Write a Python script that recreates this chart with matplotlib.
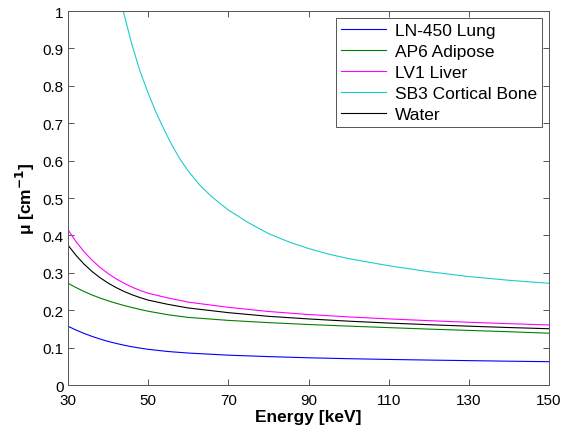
import numpy as np
import matplotlib
matplotlib.use('Agg')
from matplotlib import pyplot as plt

plt.rcParams['font.family'] = ['Liberation Sans', 'DejaVu Sans']

# Attenuation coefficients (cm^-1)
energy = [30, 32, 34, 36, 38, 40, 42, 44, 46, 48, 50, 55, 60, 70, 80, 90,
          100, 110, 120, 130, 140, 150]
lung = [0.157, 0.147, 0.138, 0.130, 0.1229, 0.1166, 0.1112, 0.1064, 0.1022,
        0.0986, 0.0955, 0.0895, 0.0855, 0.0798, 0.0760, 0.0728, 0.0704, 0.0684,
        0.0667, 0.0652, 0.0637, 0.0624]
adipose = [0.272, 0.2605, 0.250, 0.2407, 0.2325, 0.2252, 0.2186, 0.2126, 0.2071,
           0.202, 0.1973, 0.1878, 0.1808, 0.1728, 0.1668, 0.1618, 0.1575, 0.1535,
           0.1495, 0.146, 0.1425, 0.1385]
liver = [0.415, 0.3833, 0.3564, 0.3337, 0.3144, 0.298, 0.284, 0.272, 0.2617,
         0.2529, 0.2453, 0.2327, 0.2216, 0.2078, 0.1966, 0.1885, 0.1821, 0.1768,
         0.1721, 0.1678, 0.164, 0.1606]
water = [0.374, 0.3465, 0.3232, 0.3035, 0.2868, 0.2726, 0.2605, 0.2501, 0.2412,
         0.2336, 0.227, 0.2155, 0.206, 0.1935, 0.1837, 0.1767, 0.1707, 0.1657,
         0.1613, 0.1573, 0.1537, 0.1505]

energy_bone = [40, 42, 44, 46, 48, 50, 52, 54, 56, 58, 60, 63, 66, 70, 75, 80,
               85, 90, 95, 100, 110, 120, 130, 140, 150]
bone = [1.21, 1.09, 0.99, 0.908, 0.838, 0.780, 0.728, 0.682, 0.640, 0.603, 0.572,
        0.533, 0.502, 0.468, 0.434, 0.405, 0.383, 0.365, 0.350, 0.338, 0.319,
        0.303, 0.290, 0.280, 0.272]

xticks = [30, 50, 70, 90, 110, 130, 150]
yticks = np.round(np.arange(0, 1.01, 0.1), 1)
ytick_labels = ['0', '0.1', '0.2', '0.3', '0.4', '0.5', '0.6', '0.7', '0.8', '0.9', '1']

fig = plt.figure(figsize=(5.65, 4.35), dpi=100)
ax = fig.add_axes([0.1204, 0.1126, 0.8513, 0.8598])

lw = 0.8
ax.plot(energy, lung, color='#0000ff', lw=lw, label='LN-450 Lung')
ax.plot(energy, adipose, color='#008000', lw=lw, label='AP6 Adipose')
ax.plot(energy, liver, color='#ff00ff', lw=lw, label='LV1 Liver')
ax.plot(energy_bone, bone, color='#1ccccc', lw=lw, label='SB3 Cortical Bone')
ax.plot(energy, water, color='#000000', lw=lw, label='Water')

ax.set_xlim(30, 150)
ax.set_ylim(0, 1)
ax.set_xticks(xticks)
ax.set_yticks(yticks)
ax.set_yticklabels(ytick_labels)
ax.tick_params(direction='in', top=True, right=True, labelsize=11,
               length=4, width=0.7, color='#555555')
ax.tick_params(axis='x', pad=5.5)
ax.tick_params(axis='y', pad=3)
for s in ax.spines.values():
    s.set_color('#555555')
    s.set_linewidth(0.7)

ax.set_xlabel('Energy [keV]', fontsize=12.5, fontweight='bold', labelpad=2)
ax.set_ylabel(r'μ [cm$^{\mathbf{-1}}$]', fontsize=12.5,
              fontweight='bold', labelpad=4)

leg = ax.legend(loc='upper right', fontsize=12.5, handlelength=2.6,
                fancybox=False, framealpha=1, borderpad=0.3, labelspacing=0.33,
                handletextpad=0.5, borderaxespad=0.4)
leg.get_frame().set_edgecolor('#555555')
leg.get_frame().set_linewidth(0.7)

fig.savefig('out.png', dpi=100)
